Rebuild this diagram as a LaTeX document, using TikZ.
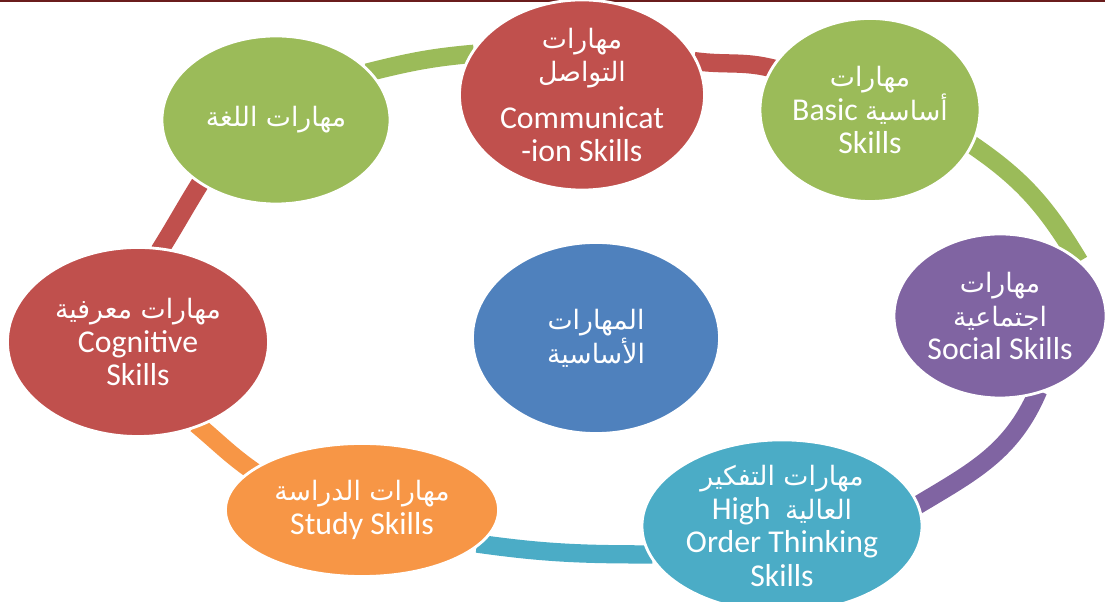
\documentclass[tikz,border=0pt]{standalone}
\usepackage{fontspec}
\setmainfont{Carlito}
\newfontfamily\arabicfont[Script=Arabic]{DejaVu Sans}
\TeXXeTstate=1
\usetikzlibrary{shapes.geometric, backgrounds}

\definecolor{skgreen}{HTML}{9BBB59}
\definecolor{skred}{HTML}{C0504D}
\definecolor{skpurple}{HTML}{8064A2}
\definecolor{skteal}{HTML}{4BACC6}
\definecolor{skorange}{HTML}{F79646}
\definecolor{skblue}{HTML}{4F81BD}
\definecolor{skrule}{HTML}{6A1C1C}

\newcommand\arb[1]{{\arabicfont\fontsize{19}{24}\selectfont\beginR#1\endR}}

\begin{document}
\begin{tikzpicture}[
      x=0.025cm, y=0.025cm,
      bubble/.style={ellipse, draw=white, line width=2pt, text=white,
                     inner sep=0pt, align=center,
                     font=\fontsize{22.6}{24}\selectfont},
      link/.style={line width=13pt, draw=#1, shorten <=-3pt, shorten >=-3pt}
    ]
    \useasboundingbox (0,0) rectangle (1105,602);
    \draw[skrule, line width=1.2pt] (0,601) -- (1105,601);

    % the ring of skills
    \node[bubble, fill=skgreen, minimum width=5.7cm, minimum height=4.2cm] (lang) at (276,482)
      {\arb{مهارات اللغة}};
    \node[bubble, fill=skred, minimum width=6.125cm, minimum height=4.65cm] (comm) at (582,507)
      {\arb{مهارات}\\\arb{التواصل}\\[9pt]Communicat\\-ion Skills};
    \node[bubble, fill=skgreen, minimum width=5.175cm, minimum height=4.575cm] (basic) at (870,492)
      {\arb{مهارات}\\Basic \arb{أساسية}\\Skills};
    \node[bubble, fill=skpurple, minimum width=5.3cm, minimum height=4.1cm] (social) at (1000,286)
      {\arb{مهارات}\\\arb{اجتماعية}\\Social Skills};
    \node[bubble, fill=skteal, minimum width=7cm, minimum height=3.675cm] (think) at (782,76)
      {\arb{مهارات التفكير}\\High\ \ \arb{العالية}\\Order Thinking\\Skills};
    \node[bubble, fill=skorange, minimum width=6.825cm, minimum height=3.325cm] (study) at (362,92)
      {\arb{مهارات الدراسة}\\Study Skills};
    \node[bubble, fill=skred, minimum width=6.525cm, minimum height=4.725cm] (cogn) at (138,260)
      {\arb{مهارات معرفية}\\Cognitive\\Skills};

    % middle
    \node[bubble, fill=skblue, minimum width=6.175cm, minimum height=4.775cm] (core) at (596,264)
      {\arb{المهارات}\\\arb{الأساسية}};

    % bands between neighbours
    \begin{scope}[on background layer]
      \draw[link=skgreen] (lang.27) to[out=14, in=185] (comm.160);
      \draw[link=skred] (comm.16) to[out=-8, in=165] (basic.157);
      \draw[link=skgreen] (basic.-19) to[out=-34, in=121] (social.37);
      \draw[link=skpurple] (social.-65) to[out=-113, in=31] (think.9);
      \draw[link=skteal] (think.192) to[out=180, in=-8] (study.-16);
      \draw[link=skorange] (study.160) to[out=145, in=-40] (cogn.-54);
      \draw[link=skred] (cogn.76) to[out=58, in=-122] (lang.220);
    \end{scope}

  \end{tikzpicture}
\end{document}
